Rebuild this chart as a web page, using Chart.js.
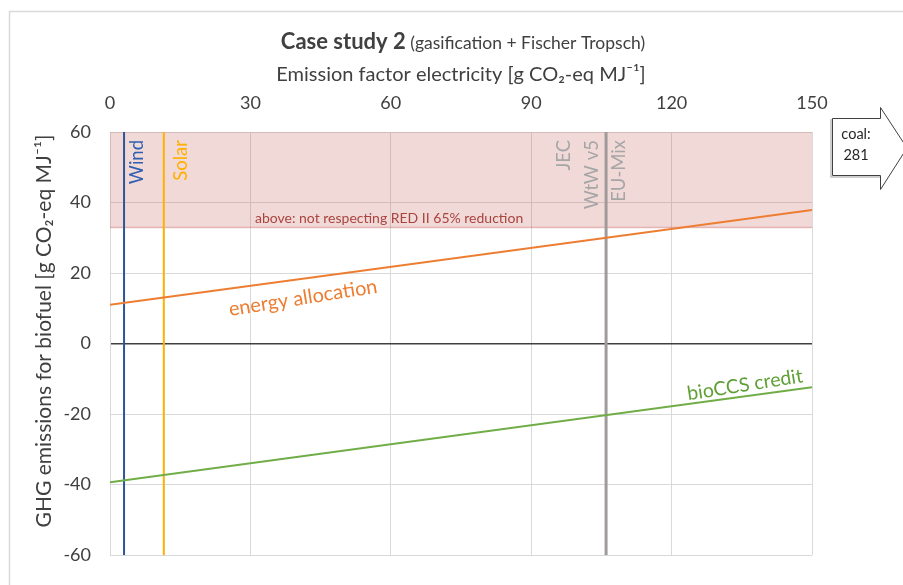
<!DOCTYPE html>
<html><head><meta charset="utf-8">
<script src="https://cdn.jsdelivr.net/npm/chart.js@4"></script>
<style>html,body{margin:0;padding:0;background:#fff}#wrap{width:903px;height:585px;position:relative}</style>
</head><body><div id="wrap"><canvas id="c" width="903" height="585"></canvas></div>
<script>
// ---- data ----
const xEnds = [0, 150];
const energyAllocation = [11.0, 37.9];
const bioCCSCredit = [-39.3, -12.4];
const redIILimit = [32.9, 32.9];   // 65% reduction vs. fossil comparator 94
const redIITop = 60;
const refNames = ['Wind', 'Solar', 'JEC'];
const refX = [3, 11.5, 106];
const yRange = [-60, 60];
const xTickStep = 30;
const yTickStep = 20;
const coalLabel = ['coal:', '281'];

const FONT = 'Lato, "Open Sans", "Liberation Sans", sans-serif';
Chart.defaults.font.family = FONT;

const pts = (xs, ys) => xs.map((x, i) => ({x, y: ys[i]}));
const vline = x => yRange.map(y => ({x, y}));

const decor = {
  id: 'decor',
  beforeDraw(chart) {
    const c = chart.ctx;
    c.save();
    c.fillStyle = '#fff'; c.fillRect(0, 0, chart.width, chart.height);
    c.strokeStyle = '#d9d9d9'; c.lineWidth = 1.5;
    c.beginPath(); c.moveTo(9.5, 600); c.lineTo(9.5, 11.5); c.lineTo(920, 11.5); c.stroke();
    c.restore();
  },
  afterDraw(chart) {
    const c = chart.ctx, xs = chart.scales.x, ys = chart.scales.y;
    c.save();
    // title
    c.textBaseline = 'alphabetic';
    const t1 = 'Case study 2', t2 = ' (gasification + Fischer Tropsch)';
    c.font = 'bold 22px ' + FONT; const w1 = c.measureText(t1).width;
    c.font = '17.5px ' + FONT; const w2 = c.measureText(t2).width;
    let x0 = 463 - (w1 + w2) / 2;
    c.fillStyle = '#404040';
    c.font = 'bold 22px ' + FONT; c.fillText(t1, x0, 49);
    c.font = '17.5px ' + FONT; c.fillText(t2, x0 + w1, 49);

    // y axis title
    c.save(); c.translate(44, 331); c.rotate(-Math.PI / 2);
    c.font = '21px ' + FONT; c.fillStyle = '#404040'; c.textAlign = 'center'; c.textBaseline = 'middle';
    c.fillText('GHG emissions for biofuel [g CO₂-eq MJ⁻¹]', 0, 0); c.restore();

    // RED II note
    c.font = '14px ' + FONT; c.fillStyle = '#a9443f'; c.textAlign = 'left'; c.textBaseline = 'middle';
    c.fillText('above: not respecting RED II 65% reduction', 255, 218);

    // vertical labels
    const vtext = (txt, x, yTop, color) => {
      c.save(); c.translate(x, yTop); c.rotate(-Math.PI / 2);
      c.fillStyle = color; c.font = '18.5px ' + FONT; c.textAlign = 'right'; c.textBaseline = 'middle';
      c.fillText(txt, 0, 0); c.restore();
    };
    const top = ys.getPixelForValue(60) + 8;
    vtext(refNames[0], xs.getPixelForValue(refX[0]) + 13, top, '#2e5fb0');
    vtext(refNames[1], xs.getPixelForValue(refX[1]) + 17, top, '#ffb000');
    const jx = xs.getPixelForValue(refX[2]);
    vtext('JEC', jx - 42, top, '#a6a6a6');
    vtext('WtW v5', jx - 14, top, '#a6a6a6');
    vtext('EU-Mix', jx + 13, top, '#a6a6a6');

    // line labels
    const rtext = (txt, x, y, ang, color, size) => {
      c.save(); c.translate(x, y); c.rotate(ang * Math.PI / 180);
      c.fillStyle = color; c.font = size + 'px ' + FONT; c.textAlign = 'center'; c.textBaseline = 'middle';
      c.fillText(txt, 0, 0); c.restore();
    };
    rtext('energy allocation', 303, 298, -9, '#ed7d31', 20);
    rtext('bioCCS credit', 745, 385, -9, '#5fa036', 19.5);

    // coal arrow
    c.beginPath();
    c.moveTo(832.5, 118.5); c.lineTo(880.5, 118.5); c.lineTo(880.5, 107.5); c.lineTo(907, 148);
    c.lineTo(880.5, 189.5); c.lineTo(880.5, 175.5); c.lineTo(832.5, 175.5); c.closePath();
    c.fillStyle = '#fff'; c.fill();
    c.strokeStyle = '#404040'; c.lineWidth = 1; c.stroke();
    c.strokeStyle = 'rgba(0,0,0,0.25)'; c.lineWidth = 1.5;
    c.beginPath(); c.moveTo(831, 119); c.lineTo(831, 177); c.lineTo(880, 177); c.stroke();
    c.fillStyle = '#262626'; c.font = '14.5px ' + FONT; c.textAlign = 'center'; c.textBaseline = 'middle';
    c.fillText(coalLabel[0], 856, 134);
    c.fillText(coalLabel[1], 856, 155);
    c.restore();
  }
};

new Chart(document.getElementById('c'), {
  type: 'scatter',
  data: {
    datasets: [
      { label: 'RED II', data: pts(xEnds, redIILimit), showLine: true, pointRadius: 0,
        borderColor: 'rgba(192,80,77,0.35)', borderWidth: 1.5,
        backgroundColor: 'rgba(192,80,77,0.22)', fill: { value: redIITop }, order: 10 },
      { label: refNames[0], data: vline(refX[0]), showLine: true, pointRadius: 0, borderColor: '#2e5597', borderWidth: 2, order: 3 },
      { label: refNames[1], data: vline(refX[1]), showLine: true, pointRadius: 0, borderColor: '#ffb000', borderWidth: 2, order: 3 },
      { label: refNames[2], data: vline(refX[2]), showLine: true, pointRadius: 0, borderColor: '#a09a9a', borderWidth: 3, order: 3 },
      { label: 'energy allocation', data: pts(xEnds, energyAllocation), showLine: true, pointRadius: 0, borderColor: '#ed7d31', borderWidth: 2, order: 1 },
      { label: 'bioCCS credit', data: pts(xEnds, bioCCSCredit), showLine: true, pointRadius: 0, borderColor: '#70ad47', borderWidth: 2, order: 1 }
    ]
  },
  options: {
    responsive: false, animation: false,
    layout: { padding: { left: 0, right: 91, top: 0, bottom: 24 } },
    plugins: { legend: { display: false }, tooltip: { enabled: false } },
    scales: {
      x: {
        type: 'linear', position: 'top', min: xEnds[0], max: xEnds[1],
        ticks: { stepSize: xTickStep, color: '#404040', font: { size: 18 }, padding: 18 },
        grid: { color: '#d9d9d9', drawTicks: false },
        border: { display: true, color: '#d9d9d9' },
        title: { display: true, text: 'Emission factor electricity [g CO₂-eq MJ⁻¹]', color: '#404040',
                 font: { size: 20 }, padding: { top: 63, bottom: 0 } },
        afterFit: s => { s.height = 132; }
      },
      y: {
        type: 'linear', min: yRange[0], max: yRange[1],
        ticks: { stepSize: yTickStep, color: '#404040', font: { size: 18 }, padding: 19 },
        grid: { color: c => c.tick && c.tick.value === 0 ? '#404040' : '#d9d9d9',
                lineWidth: c => c.tick && c.tick.value === 0 ? 1.5 : 1, drawTicks: false },
        border: { display: true, color: '#d9d9d9' },
        afterFit: s => { s.width = 110; }
      }
    }
  },
  plugins: [decor]
});
</script></body></html>
